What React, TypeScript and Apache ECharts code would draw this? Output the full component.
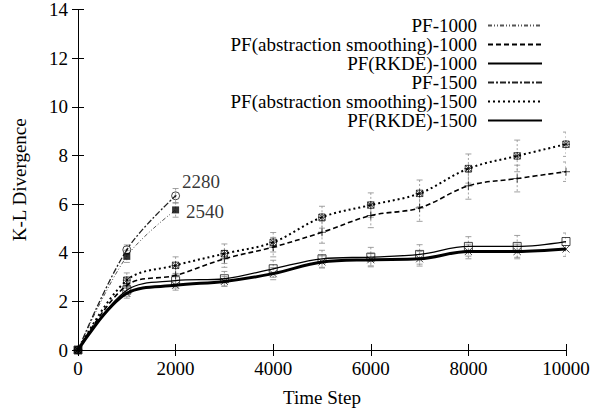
import { useEffect, useRef } from "react";
import * as echarts from "echarts";

// Time steps at which the runs were measured
const timeSteps = [0, 1000, 2000, 3000, 4000, 5000, 6000, 7000, 8000, 9000, 10000];
const pfSteps = [0, 1000, 2000];

// Mean K-L divergence and half-width of the error bar per run
const pf1000 = [0, 3.85, 5.76];
const pf1000Err = [0, 0.25, 0.3];
const abs1000 = [0, 2.66, 3.07, 3.75, 4.23, 4.84, 5.53, 5.84, 6.75, 7.05, 7.33];
const abs1000Err = [0, 0.3, 0.35, 0.35, 0.4, 0.45, 0.5, 0.55, 0.55, 0.55, 0.4];
const rkde1000 = [0, 2.33, 2.66, 2.82, 3.14, 3.62, 3.71, 3.75, 4.05, 4.05, 4.15];
const rkde1000Err = [0, 0.2, 0.2, 0.2, 0.25, 0.25, 0.25, 0.3, 0.3, 0.3, 0.3];
const pf1500 = [0, 4.12, 6.34];
const pf1500Err = [0, 0.2, 0.3];
const abs1500 = [0, 2.87, 3.48, 3.96, 4.43, 5.46, 5.96, 6.44, 7.46, 7.98, 8.46];
const abs1500Err = [0, 0.3, 0.35, 0.4, 0.4, 0.45, 0.5, 0.55, 0.6, 0.65, 0.5];
const rkde1500 = [0, 2.46, 2.85, 2.93, 3.34, 3.75, 3.82, 3.93, 4.26, 4.26, 4.46];
const rkde1500Err = [0, 0.25, 0.3, 0.3, 0.35, 0.35, 0.4, 0.4, 0.4, 0.45, 0.35];

// Step at which each plain particle filter run stopped
const pf1000End = "2540";
const pf1500End = "2280";

const seriesNames = [
  "PF-1000",
  "PF(abstraction smoothing)-1000",
  "PF(RKDE)-1000",
  "PF-1500",
  "PF(abstraction smoothing)-1500",
  "PF(RKDE)-1500",
];

const FONT = "'Liberation Serif', 'Times New Roman', serif";

const SYM_PLUS = "path://M0,5L10,5M5,0L5,10";
const SYM_CROSS = "path://M0,0L10,10M10,0L0,10";
const SYM_BOXSTAR = "path://M1,1L9,1L9,9L1,9ZM0,5L10,5M5,0L5,10M1,1L9,9M9,1L1,9";
const SYM_BOX = "path://M0,0L10,0L10,10L0,10Z";
const SYM_DOTCIRCLE =
  "path://M10,5A5,5 0 1,1 0,5A5,5 0 1,1 10,5ZM5.8,5A0.8,0.8 0 1,1 4.2,5A0.8,0.8 0 1,1 5.8,5Z";

type Run = {
  name: string;
  steps: number[];
  values: number[];
  errors: number[];
  color: string;
  width: number;
  dash: number[] | "solid";
  symbol: string;
  symbolSize: number;
  filled: boolean;
  endLabel?: string;
  endOffset?: [number, number];
};

const runs: Run[] = [
  {
    name: seriesNames[0], steps: pfSteps, values: pf1000, errors: pf1000Err,
    color: "#555", width: 1, dash: [4, 2, 1, 2, 1, 2], symbol: "rect", symbolSize: 7, filled: true,
    endLabel: pf1000End, endOffset: [2, 2],
  },
  {
    name: seriesNames[1], steps: timeSteps, values: abs1000, errors: abs1000Err,
    color: "#000", width: 1.6, dash: [5, 3], symbol: SYM_PLUS, symbolSize: 8, filled: false,
  },
  {
    name: seriesNames[2], steps: timeSteps, values: rkde1000, errors: rkde1000Err,
    color: "#000", width: 3, dash: "solid", symbol: SYM_CROSS, symbolSize: 7, filled: false,
  },
  {
    name: seriesNames[3], steps: pfSteps, values: pf1500, errors: pf1500Err,
    color: "#222", width: 1.3, dash: [6, 2, 2, 2], symbol: SYM_DOTCIRCLE, symbolSize: 8, filled: false,
    endLabel: pf1500End, endOffset: [-3, -14],
  },
  {
    name: seriesNames[4], steps: timeSteps, values: abs1500, errors: abs1500Err,
    color: "#000", width: 2, dash: [2, 3], symbol: SYM_BOXSTAR, symbolSize: 8, filled: false,
  },
  {
    name: seriesNames[5], steps: timeSteps, values: rkde1500, errors: rkde1500Err,
    color: "#000", width: 1.3, dash: "solid", symbol: SYM_BOX, symbolSize: 8, filled: false,
  },
];

function buildOption(): echarts.EChartsCoreOption {
  const series: any[] = [];

  runs.forEach((r, i) => {
    // error bars
    series.push({
      type: "custom",
      name: r.name + " error",
      xAxisIndex: 0,
      yAxisIndex: 0,
      z: 1,
      clip: true,
      silent: true,
      data: r.steps.map((s, k) => [s, r.values[k], r.errors[k]]),
      renderItem: (_params: any, api: any) => {
        const x = api.value(0);
        const y = api.value(1);
        const e = api.value(2);
        if (!e) return null;
        const top = api.coord([x, y + e]);
        const bot = api.coord([x, y - e]);
        const hw = 3;
        const style = { stroke: "#8a8a8a", lineWidth: 0.8, lineDash: [2, 2] };
        const capStyle = { stroke: "#8a8a8a", lineWidth: 0.8 };
        return {
          type: "group",
          children: [
            { type: "line", shape: { x1: top[0], y1: top[1], x2: bot[0], y2: bot[1] }, style },
            { type: "line", shape: { x1: top[0] - hw, y1: top[1], x2: top[0] + hw, y2: top[1] }, style: capStyle },
            { type: "line", shape: { x1: bot[0] - hw, y1: bot[1], x2: bot[0] + hw, y2: bot[1] }, style: capStyle },
          ],
        };
      },
    });

    // smoothed curve
    series.push({
      type: "line",
      name: r.name,
      xAxisIndex: 0,
      yAxisIndex: 0,
      z: 3 + i,
      smooth: 0.35,
      symbol: "none",
      data: r.steps.map((s, k) => [s, r.values[k]]),
      lineStyle: { color: r.color, width: r.width, type: r.dash },
      itemStyle: { color: r.color },
    });

    // point markers
    series.push({
      type: "scatter",
      name: r.name + " points",
      xAxisIndex: 0,
      yAxisIndex: 0,
      z: 10 + i,
      symbol: r.symbol,
      symbolSize: r.symbolSize,
      itemStyle: r.filled
        ? { color: "#000" }
        : { color: "transparent", borderColor: "#000", borderWidth: 0.9 },
      data: r.steps.map((s, k) => {
        const item: any = { value: [s, r.values[k]] };
        if (r.endLabel && k === r.steps.length - 1) {
          item.label = {
            show: true,
            position: "right",
            distance: 5,
            offset: r.endOffset,
            formatter: r.endLabel,
            color: "#000",
            fontFamily: FONT,
            fontSize: 19,
          };
        }
        return item;
      }),
    });
  });

  const axisCommon = {
    axisLine: { show: true, lineStyle: { color: "#000", width: 1 } },
    axisTick: { show: true, inside: true, length: 6, lineStyle: { color: "#000", width: 1 } },
    splitLine: { show: false },
  };

  return {
    animation: false,
    backgroundColor: "#fff",
    grid: { left: 78, right: 28, top: 8, bottom: 63, containLabel: false },
    xAxis: [
      {
        type: "value",
        position: "bottom",
        min: 0,
        max: 10000,
        interval: 2000,
        name: "Time Step",
        nameLocation: "middle",
        nameGap: 38,
        nameTextStyle: { color: "#000", fontFamily: FONT, fontSize: 19 },
        axisLabel: {
          color: "#000",
          fontFamily: FONT,
          fontSize: 19,
          margin: 9,
          formatter: (v: number) => String(v),
        },
        ...axisCommon,
      },
      {
        type: "value",
        position: "top",
        min: 0,
        max: 10000,
        interval: 2000,
        axisLabel: { show: false },
        ...axisCommon,
      },
    ],
    yAxis: [
      {
        type: "value",
        position: "left",
        min: 0,
        max: 14,
        interval: 2,
        name: "K-L Divergence",
        nameLocation: "middle",
        nameGap: 49,
        nameRotate: 90,
        nameTextStyle: { color: "#000", fontFamily: FONT, fontSize: 19 },
        axisLabel: {
          color: "#000",
          fontFamily: FONT,
          fontSize: 19,
          margin: 10,
          formatter: (v: number) => String(v),
        },
        ...axisCommon,
      },
      {
        type: "value",
        position: "right",
        min: 0,
        max: 14,
        interval: 2,
        axisLabel: { show: false },
        ...axisCommon,
      },
    ],
    legend: {
      data: seriesNames,
      orient: "vertical",
      align: "right",
      right: 46,
      top: 11,
      itemWidth: 54,
      itemHeight: 12,
      itemGap: 0,
      selectedMode: false,
      // only the line sample, no marker, in each legend entry
      itemStyle: { color: "transparent", borderColor: "transparent", borderWidth: 0, opacity: 0 },
      textStyle: {
        color: "#000",
        fontFamily: FONT,
        fontSize: 19,
        lineHeight: 19,
        padding: [0, 6, 0, 0],
      },
    },
    series,
  };
}

export default function App() {
  const ref = useRef<HTMLDivElement>(null);

  useEffect(() => {
    if (!ref.current) return;
    const chart = echarts.init(ref.current, undefined, { renderer: "svg" });
    chart.setOption(buildOption());
    return () => chart.dispose();
  }, []);

  return (
    <div
      ref={ref}
      style={{ width: 594, height: 413, position: "absolute", left: 0, top: 0, background: "#fff" }}
    />
  );
}
